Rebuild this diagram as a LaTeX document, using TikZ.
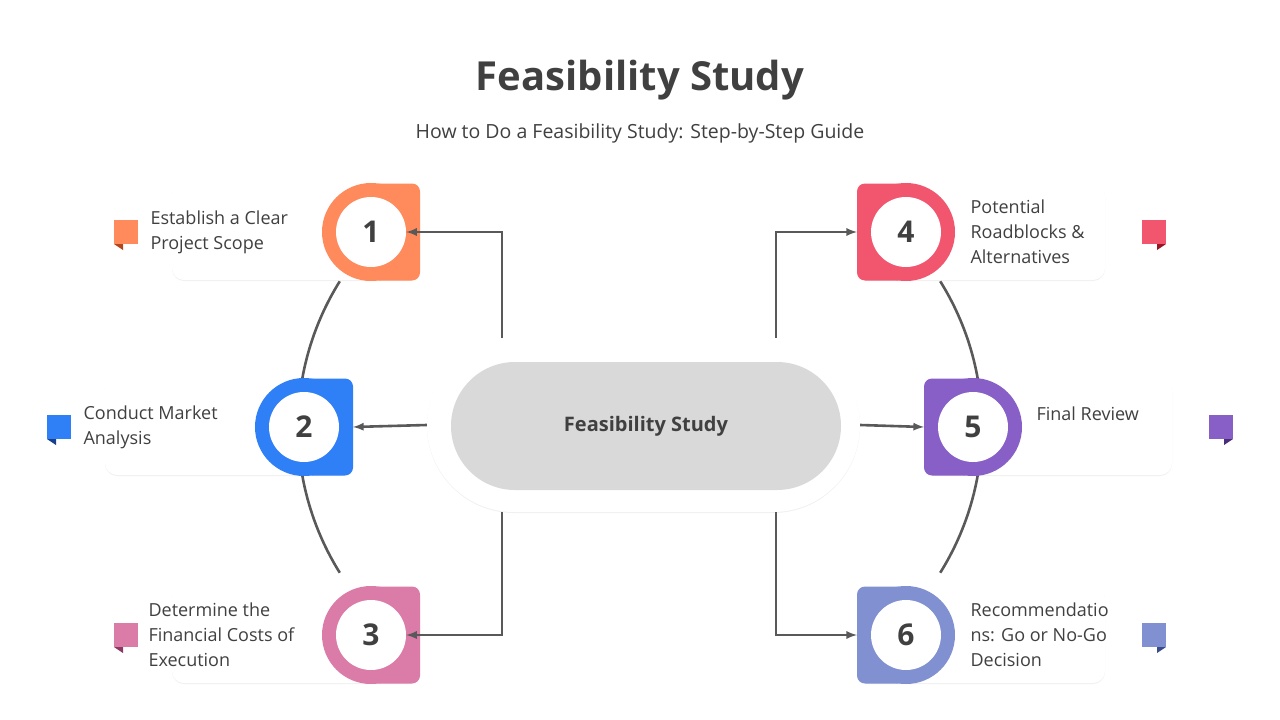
\documentclass[tikz,border=0pt]{standalone}
\usepackage{fontspec}
\setmainfont{Open Sans}
\usetikzlibrary{positioning,shadows}
\definecolor{txt}{HTML}{404040}
\definecolor{line}{HTML}{595959}
\definecolor{cA}{HTML}{FF8A5B}\definecolor{dA}{HTML}{B5451B}
\definecolor{cB}{HTML}{2F7FF7}\definecolor{dB}{HTML}{173F8A}
\definecolor{cC}{HTML}{DB7BA8}\definecolor{dC}{HTML}{8A3A62}
\definecolor{cD}{HTML}{F2566E}\definecolor{dD}{HTML}{9A1428}
\definecolor{cE}{HTML}{875FC6}\definecolor{dE}{HTML}{4A2C7A}
\definecolor{cF}{HTML}{8090D0}\definecolor{dF}{HTML}{3B4A8A}
\tikzset{
  card/.style={fill=white,rounded corners=12pt,drop shadow={opacity=0.12,shadow xshift=0pt,shadow yshift=-1pt}},
  num/.style={circle,fill=white,minimum size=70pt,inner sep=0pt,font=\fontsize{30}{30}\selectfont\bfseries,text=txt},
  lbl/.style={align=left,anchor=west,font=\fontsize{18}{25}\selectfont,text=txt},
  conn/.style={line,line width=2.6pt},
  arr/.style={conn,-latex}
}
% left step: card, badge round on the left, flag on the left
\newcommand{\leftstep}[6]{%
  \fill[card] (#1-199,#2-48) rectangle (#1+49,#2+48);
  \fill[#3] (#1,#2) circle (49);
  \fill[#3,rounded corners=8pt] (#1,#2-48.5) rectangle (#1+49,#2+48.5);
  \node[num] (#5) at (#1,#2) {#6};
  \fill[#3] (#1-257,#2-12) rectangle (#1-233,#2+12);
  \fill[#4] (#1-257,#2+12) -- (#1-248,#2+12) -- (#1-248,#2+18) -- cycle;
}
% right step: mirrored
\newcommand{\rightstep}[6]{%
  \fill[card] (#1-49,#2-48) rectangle (#1+199,#2+48);
  \fill[#3] (#1,#2) circle (49);
  \fill[#3,rounded corners=8pt] (#1-49,#2-48.5) rectangle (#1,#2+48.5);
  \node[num] (#5) at (#1,#2) {#6};
  \fill[#3] (#1+236,#2-12) rectangle (#1+260,#2+12);
  \fill[#4] (#1+260,#2+12) -- (#1+251,#2+12) -- (#1+251,#2+18) -- cycle;
}
\begin{document}
\begin{tikzpicture}[x=1pt,y=-1pt]
\useasboundingbox (0,0) rectangle (1280,720);
\node[font=\fontsize{40}{40}\selectfont\bfseries,text=txt] (title) at (640,80) {Feasibility Study};
\node[font=\fontsize{19.5}{20}\selectfont,text=txt] (sub) at (640,133) {How to Do a Feasibility Study: Step-by-Step Guide};

% arcs behind the cards
\draw[conn] (573,427) ++(148:275) arc (148:212:275);
\draw[conn] (707,427) ++(32:275) arc (32:-32:275);

\leftstep{371}{232}{cA}{dA}{s1}{1}
\leftstep{304}{427}{cB}{dB}{s2}{2}
\leftstep{371}{635}{cC}{dC}{s3}{3}
\rightstep{906}{232}{cD}{dD}{s4}{4}
\rightstep{973}{427}{cE}{dE}{s5}{5}
\rightstep{906}{635}{cF}{dF}{s6}{6}

\node[lbl] (t1) at (147,232) {Establish a Clear\\Project Scope};
\node[lbl] (t2) at (80,427) {Conduct Market\\Analysis};
\node[lbl] (t3) at (145,635) {Determine the\\Financial Costs of\\Execution};
\node[lbl] (t4) at (967,232) {Potential\\Roadblocks \&\\Alternatives};
\node[lbl] (t5) at (1033,414) {Final Review};
\node[lbl] (t6) at (967,635) {Recommendatio\\ns: Go or No-Go\\Decision};

% centre
\node[fill=white,rounded corners=87pt,minimum width=433pt,minimum height=174pt,
  drop shadow={opacity=0.12,shadow xshift=0pt,shadow yshift=-1pt}] (outer) at (643.5,425) {};
\node[fill=black!15,rounded corners=64pt,minimum width=390pt,minimum height=128pt,
  font=\fontsize{20}{20}\selectfont\bfseries,text=txt] (core) at (646,426) {Feasibility Study};

\coordinate (o1) at (502,338);
\coordinate (o3) at (502,512);
\coordinate (o4) at (776,338);
\coordinate (o6) at (776,512);
\draw[arr] (o1) |- (s1.east);
\draw[arr] (o3) |- (s3.east);
\draw[arr] (outer.west) -- ([xshift=49pt]s2.center);
\draw[arr] (o4) |- ([xshift=-49pt]s4.center);
\draw[arr] (o6) |- ([xshift=-49pt]s6.center);
\draw[arr] (outer.east) -- ([xshift=-49pt]s5.center);
\end{tikzpicture}
\end{document}
